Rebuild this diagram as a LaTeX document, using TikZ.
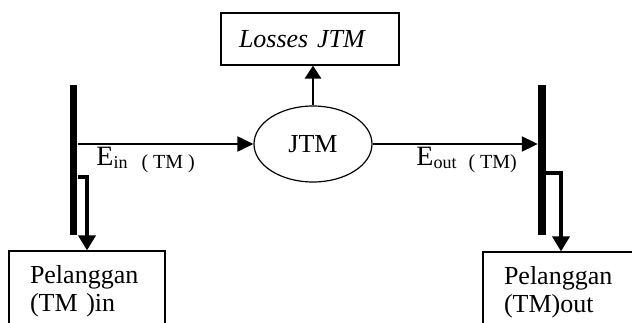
\documentclass[tikz,border=0pt]{standalone}
\usepackage{fontspec}
\setmainfont{Liberation Serif}
\usetikzlibrary{shapes.geometric,arrows.meta}

\begin{document}
\begin{tikzpicture}[x=0.5pt,y=-0.5pt,
	kotak/.style={draw,line width=0.6pt,rectangle,inner ysep=0pt,align=left},
	rel/.style={line width=1pt,-{Triangle[length=8pt,width=7.5pt]}},
	cabang/.style={line width=1.8pt,-{Triangle[length=7.5pt,width=8.5pt]}},
	bus/.style={fill=black,inner sep=0pt,minimum width=3.8pt,minimum height=75pt},
	teks/.style={font=\fontsize{13}{14}\selectfont},
	sub/.style={inner sep=0pt,font=\fontsize{14}{14}\selectfont}]
	\useasboundingbox (0,0) rectangle (632,322);
	
	\node[kotak,teks,text width=71pt,inner xsep=9pt,minimum height=26pt] (losses) at (310,39) {\itshape Losses JTM};
	\node[draw,ellipse,line width=0.6pt,minimum width=59pt,minimum height=38pt,teks] (jtm) at (313,144) {JTM};
	
	\node[bus] (busin) at (73.5,160) {};
	\node[bus] (busout) at (542,160) {};
	
	\node[kotak,teks,text width=57pt,inner xsep=10.5pt,minimum height=40pt] (pin) at (87,291) {Pelanggan\\(TM )in};
	\node[kotak,teks,text width=57pt,inner xsep=10.5pt,minimum height=40pt] (pout) at (561,292) {Pelanggan\\(TM)out};
	
	\coordinate (tapin) at (77,177);
	\coordinate (tapout) at (545,173);
	
	\draw[rel] (busin.east |- jtm.west) -- (jtm.west);
	\draw[rel] (jtm.east) -- (busout.west |- jtm.east);
	\draw[line width=1.4pt,-{Triangle[length=6.5pt,width=8pt]}] (jtm.north) -- (jtm.north |- losses.south);
	\draw[cabang] (busin.east |- tapin) -| (pin.north);
	\draw[cabang] (busout.east |- tapout) -| (pout.north);
	
	\node[sub,anchor=base west] (ein) at (96,165) {E\raisebox{-1.5pt}{\fontsize{9}{9}\selectfont in\hspace{7pt}\fontsize{10}{10}\selectfont( TM )}};
	\node[sub,anchor=base west] (eout) at (416,165) {E\raisebox{-1.5pt}{\fontsize{9}{9}\selectfont out\hspace{6pt}\fontsize{10}{10}\selectfont( TM)}};
\end{tikzpicture}
\end{document}
